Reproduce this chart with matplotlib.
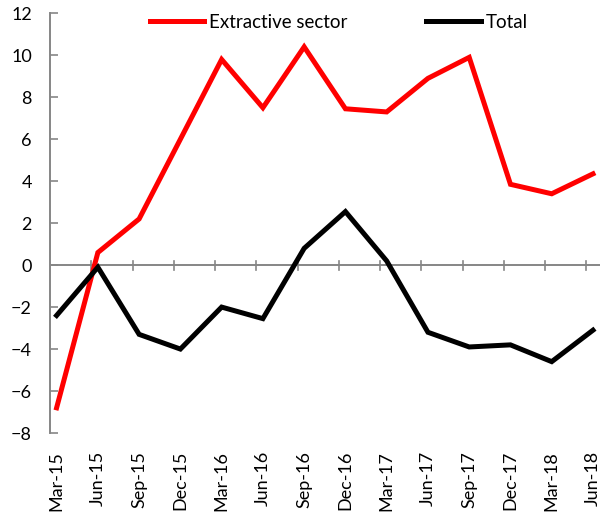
import numpy as np
import matplotlib
matplotlib.use("Agg")
import matplotlib.pyplot as plt

quarters = ["Mar-15", "Jun-15", "Sep-15", "Dec-15", "Mar-16", "Jun-16", "Sep-16",
            "Dec-16", "Mar-17", "Jun-17", "Sep-17", "Dec-17", "Mar-18", "Jun-18"]
extractive = [-6.8, 0.6, 2.2, 6.0, 9.8, 7.5, 10.4, 7.45, 7.3, 8.9, 9.9, 3.85, 3.4, 4.35]
total = [-2.4, -0.1, -3.3, -4.0, -2.0, -2.55, 0.8, 2.55, 0.2, -3.2, -3.9, -3.8, -4.6, -3.1]

RED = "#FF0000"
GREY = "#868686"
FONT = "Lato"

plt.rcParams["font.family"] = [FONT, "DejaVu Sans"]

fig = plt.figure(figsize=(6.0, 5.12), dpi=100, facecolor="white")
ax = fig.add_axes([50 / 600, 1 - 433 / 512, 1 - 50 / 600, (433 - 13.3) / 512])

x = np.arange(len(quarters))
ax.plot(x, extractive, color=RED, lw=3.6, solid_joinstyle="miter", label="Extractive sector", zorder=3)
ax.plot(x, total, color="black", lw=3.6, solid_joinstyle="miter", label="Total", zorder=3)

ax.set_xlim(-0.16, 13.17)
ax.set_ylim(-8, 12)
ax.set_yticks(np.arange(-8, 13, 2))
ax.tick_params(axis="y", direction="in", length=6, width=1.2, color=GREY,
               labelsize=13, pad=13)

# x axis drawn through zero
for s in ["top", "right", "bottom"]:
    ax.spines[s].set_visible(False)
ax.spines["left"].set_color(GREY)
ax.spines["left"].set_linewidth(1.4)
ax.axhline(0, color=GREY, lw=1.4, zorder=1)
for xi in x[1:] - 0.16:
    ax.plot([xi, xi], [-0.22, 0.22], color=GREY, lw=1.2, zorder=1, clip_on=False)

ax.set_xticks(x)
ax.set_xticklabels(quarters, rotation=90, fontsize=13)
ax.tick_params(axis="x", length=0, pad=13)
for lab in ax.get_xticklabels():
    lab.set_va("top")

fig.legend(loc="center", bbox_to_anchor=(339 / 600, 1 - 22 / 512), ncol=2, frameon=False,
           fontsize=13.5, handlelength=2.9, handletextpad=0.27, columnspacing=4.2)

fig.savefig("out.png", dpi=100, facecolor="white")
